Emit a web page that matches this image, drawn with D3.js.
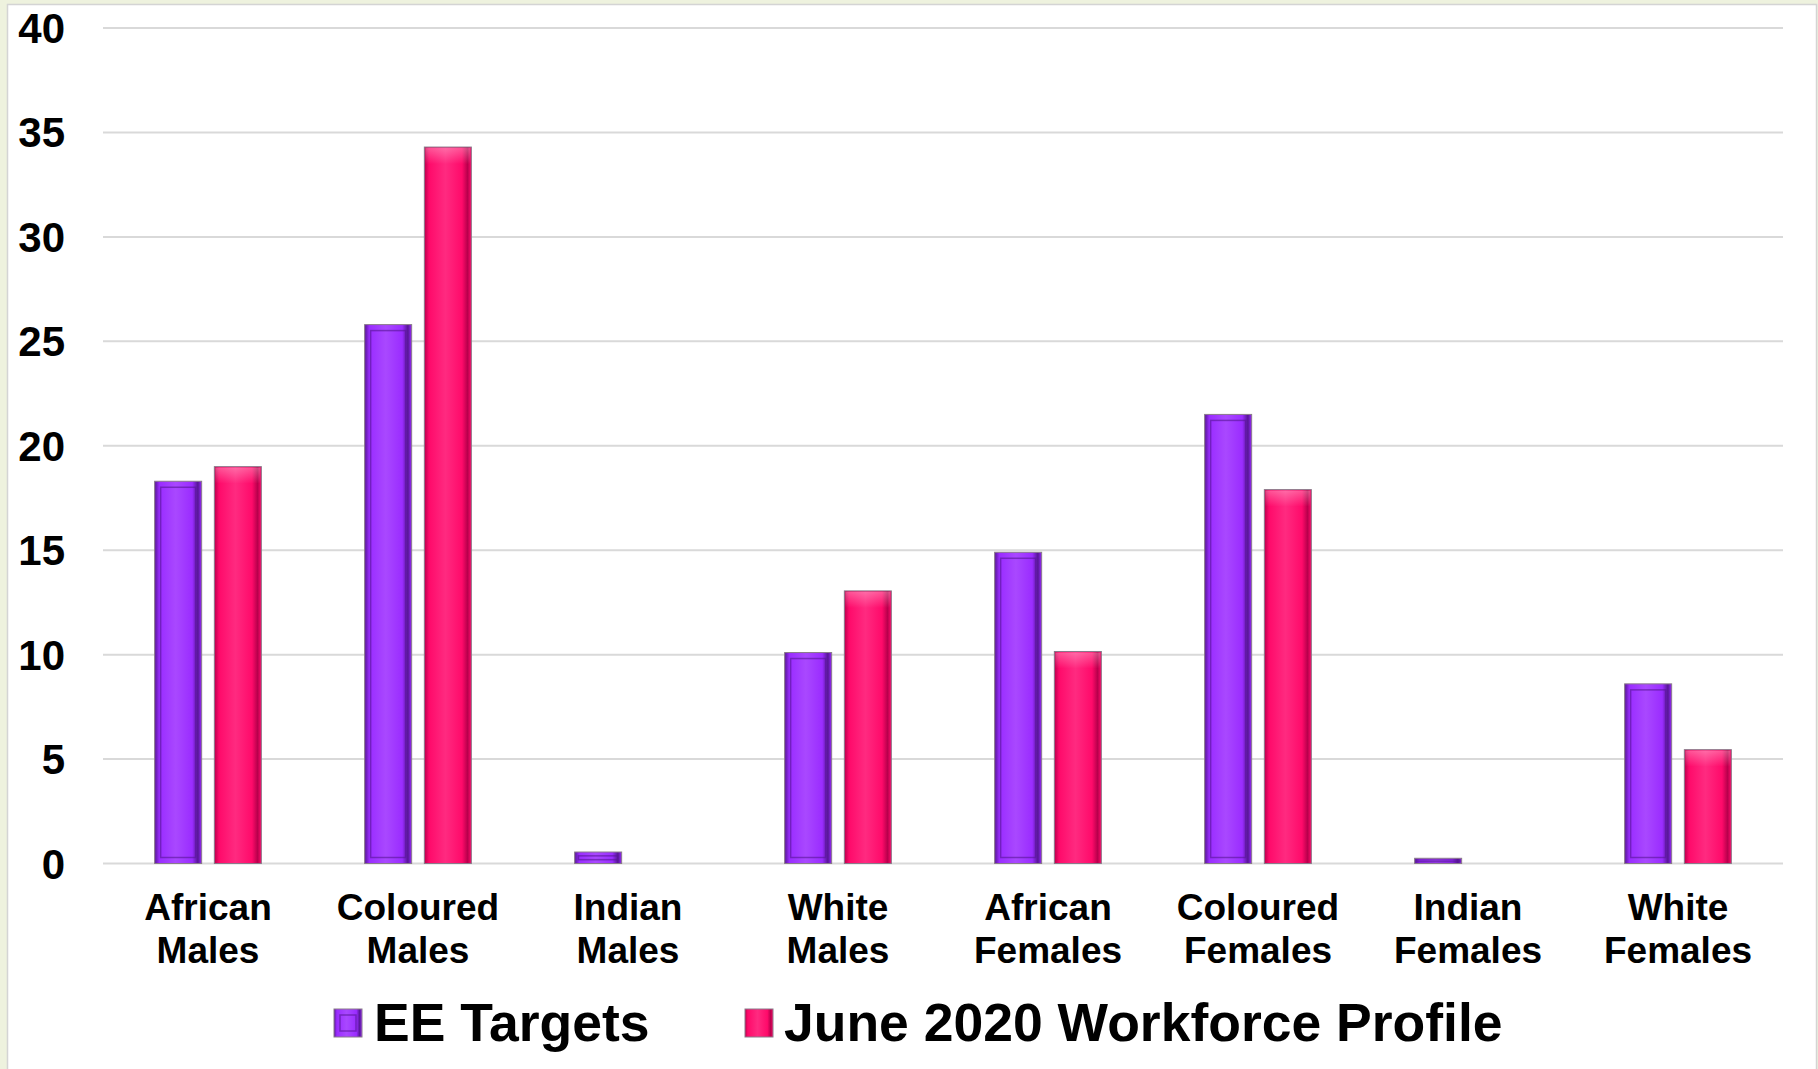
<!DOCTYPE html>
<html>
<head>
<meta charset="utf-8">
<script src="https://cdn.jsdelivr.net/npm/d3@7"></script>
<style>
  html, body { margin: 0; padding: 0; background: #eef2de; }
  svg { display: block; font-family: "Liberation Sans", Arial, sans-serif; font-weight: bold; }
</style>
</head>
<body>
<svg id="chart" width="1818" height="1069"></svg>
<script>
const categories = [
  ["African", "Males"], ["Coloured", "Males"], ["Indian", "Males"], ["White", "Males"],
  ["African", "Females"], ["Coloured", "Females"], ["Indian", "Females"], ["White", "Females"]
];
const seriesNames = ["EE Targets", "June 2020 Workforce Profile"];
const eeTargets = [18.3, 25.8, 0.55, 10.1, 14.9, 21.5, 0.25, 8.6];
const workforceProfile = [19.0, 34.3, 0, 13.05, 10.15, 17.9, 0, 5.45];
const yTicks = [0, 5, 10, 15, 20, 25, 30, 35, 40];
const seriesColors = ["#9a2cff", "#ff0a6a"];
const seriesDark = ["#561694", "#b8004c"];
const seriesLight = ["#a948ff", "#ff2a80"];

(function () {
const svg = d3.select("#chart");
const W = 1818, H = 1069;

// panel
svg.append("rect").attr("x", 7.5).attr("y", 4.5).attr("width", 1809).attr("height", H)
  .attr("fill", "#ffffff").attr("stroke", "#d4d4d4").attr("stroke-width", 1.5);

const mLeft = 103, mRight = 1783, mTop = 28, mBottom = 863.5;
const keys = categories.map(c => c.join(" "));
const x = d3.scaleBand().domain(keys).range([mLeft, mRight]).paddingInner(0).paddingOuter(0);
const xs = d3.scaleBand().domain(seriesNames).range([0, x.bandwidth()]).paddingInner(0.2127).paddingOuter(0.865);
const y = d3.scaleLinear().domain([0, 40]).range([mBottom, mTop]);

// defs: gradients
const defs = svg.append("defs");
seriesNames.forEach((s, i) => {
  const g = defs.append("linearGradient").attr("id", "grad" + i).attr("x1", 0).attr("x2", 1).attr("y1", 0).attr("y2", 0);
  g.append("stop").attr("offset", "0%").attr("stop-color", seriesDark[i]);
  g.append("stop").attr("offset", "10%").attr("stop-color", seriesColors[i]);
  g.append("stop").attr("offset", "45%").attr("stop-color", seriesLight[i]);
  g.append("stop").attr("offset", "80%").attr("stop-color", seriesColors[i]);
  g.append("stop").attr("offset", "92%").attr("stop-color", seriesDark[i]);
  g.append("stop").attr("offset", "100%").attr("stop-color", seriesColors[i]);
  const t = defs.append("linearGradient").attr("id", "topgrad" + i).attr("x1", 0).attr("x2", 0).attr("y1", 0).attr("y2", 1);
  t.append("stop").attr("offset", "0%").attr("stop-color", "#ffffff").attr("stop-opacity", 0.3);
  t.append("stop").attr("offset", "100%").attr("stop-color", "#ffffff").attr("stop-opacity", 0);
});

// gridlines
svg.append("g").selectAll("line").data(yTicks).join("line")
  .attr("x1", mLeft).attr("x2", mRight)
  .attr("y1", d => y(d)).attr("y2", d => y(d))
  .attr("stroke", "#d9d9d9").attr("stroke-width", 2);

// y tick labels
svg.append("g").selectAll("text").data(yTicks).join("text")
  .attr("x", 65).attr("y", d => y(d) + 15)
  .attr("text-anchor", "end").attr("font-size", 42).attr("fill", "#000")
  .text(d => d);

// bars
const seriesData = [eeTargets, workforceProfile];
seriesData.forEach((vals, si) => {
  const g = svg.append("g");
  vals.forEach((v, ci) => {
    if (v <= 0) return;
    const bx = x(keys[ci]) + xs(seriesNames[si]);
    const bw = xs.bandwidth();
    const by = y(v), bh = y(0) - y(v);
    g.append("rect").attr("x", bx).attr("y", by).attr("width", bw).attr("height", bh)
      .attr("fill", "url(#grad" + si + ")").attr("stroke", "#8a7a8a").attr("stroke-width", 1);
    const inset = Math.min(6, bh / 3);
    if (si === 0) {
      g.append("rect").attr("x", bx + inset).attr("y", by + inset)
        .attr("width", bw - 2 * inset).attr("height", Math.max(0, bh - 2 * inset))
        .attr("fill", "none").attr("stroke", seriesDark[si]).attr("stroke-opacity", 0.6).attr("stroke-width", 1.5);
    } else {
      g.append("rect").attr("x", bx + 1).attr("y", by + 1)
        .attr("width", bw - 2).attr("height", Math.min(16, bh - 1))
        .attr("fill", "url(#topgrad" + si + ")");
    }
  });
});

// category labels
const labels = svg.append("g");
categories.forEach((c, i) => {
  const cx = x(keys[i]) + x.bandwidth() / 2;
  const t = labels.append("text").attr("text-anchor", "middle").attr("font-size", 37).attr("fill", "#000");
  t.append("tspan").attr("x", cx).attr("y", 920).text(c[0]);
  t.append("tspan").attr("x", cx).attr("y", 963).text(c[1]);
});

// legend
const legendPos = [{sx: 334, tx: 374}, {sx: 745, tx: 784}];
seriesNames.forEach((s, i) => {
  const lg = svg.append("g");
  lg.append("rect").attr("x", legendPos[i].sx).attr("y", 1009).attr("width", 28).attr("height", 28)
    .attr("fill", "url(#grad" + i + ")").attr("stroke", "#8a7a8a").attr("stroke-width", 1);
  if (i === 0) {
    lg.append("rect").attr("x", legendPos[i].sx + 6).attr("y", 1015).attr("width", 16).attr("height", 16)
      .attr("fill", "none").attr("stroke", seriesDark[i]).attr("stroke-opacity", 0.6).attr("stroke-width", 1.5);
  }
  lg.append("text").attr("x", legendPos[i].tx).attr("y", 1041).attr("font-size", 53.5).attr("fill", "#000").text(s);
});
})();
</script>
</body>
</html>
